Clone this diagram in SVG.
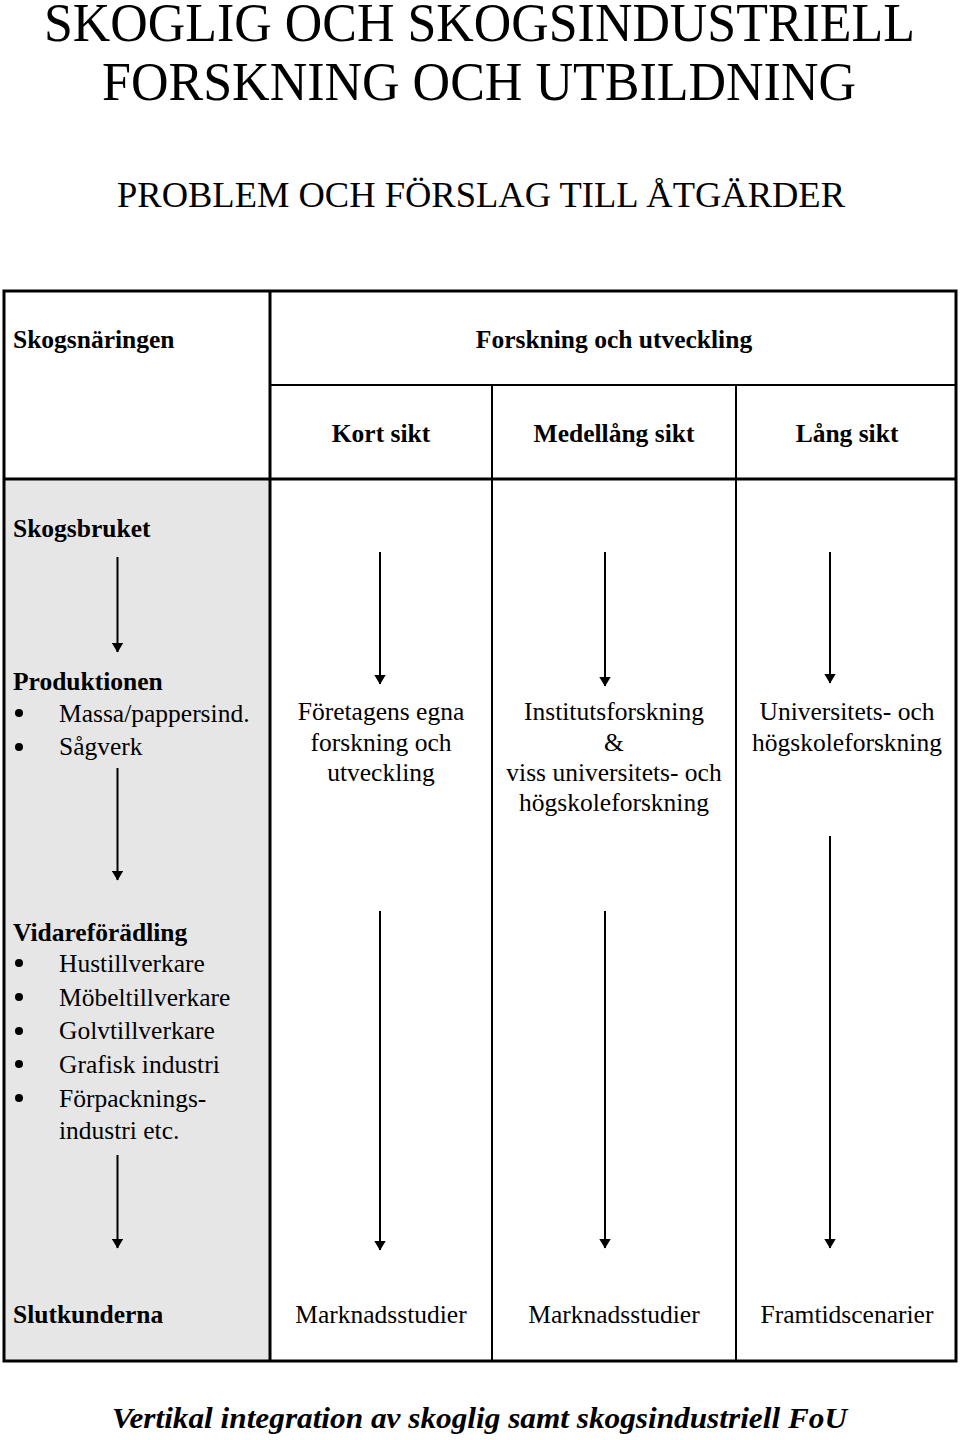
<svg xmlns="http://www.w3.org/2000/svg" width="960" height="1440" viewBox="0 0 960 1440">
<style>
text{font-family:"Liberation Serif","Times New Roman",serif;fill:#000;}
.t1{font-size:54px;}
.t3{font-size:36px;}
.b{font-size:25.5px;font-weight:bold;}
.r{font-size:25.5px;}
.c{text-anchor:middle;}
.cap{font-size:29px;font-weight:bold;font-style:italic;}
.thick{stroke:#000;stroke-width:3;fill:none;}
.thin{stroke:#000;stroke-width:2;fill:none;}
.arr{stroke:#000;stroke-width:2;fill:none;marker-end:url(#ah);}
</style>
<defs>
<marker id="ah" viewBox="0 0 10 12" refX="9.5" refY="6" markerWidth="5" markerHeight="6" markerUnits="strokeWidth" orient="auto">
<path d="M0,0 L10,6 L0,12 z" fill="#000"/>
</marker>
</defs>
<rect width="960" height="1440" fill="#fff"/>
<g id="title">
<text class="t1" x="44" y="41" textLength="871" lengthAdjust="spacingAndGlyphs">SKOGLIG OCH SKOGSINDUSTRIELL</text>
<text class="t1" x="102" y="100" textLength="754" lengthAdjust="spacingAndGlyphs">FORSKNING OCH UTBILDNING</text>
<text class="t3" x="117" y="207" textLength="728" lengthAdjust="spacingAndGlyphs">PROBLEM OCH FÖRSLAG TILL ÅTGÄRDER</text>
</g>
<g id="table">
<rect x="4" y="479" width="266" height="882" fill="#e6e6e6"/>
<rect class="thick" x="4" y="291" width="952" height="1070"/>
<line class="thick" x1="4" y1="479" x2="956" y2="479"/>
<line class="thick" x1="270" y1="291" x2="270" y2="1361"/>
<line class="thin" x1="270" y1="385" x2="956" y2="385"/>
<line class="thin" x1="492" y1="385" x2="492" y2="1361"/>
<line class="thin" x1="736" y1="385" x2="736" y2="1361"/>
</g>
<g id="header">
<text class="b" x="13" y="348">Skogsnäringen</text>
<text class="b c" x="614" y="348">Forskning och utveckling</text>
<text class="b c" x="381" y="442">Kort sikt</text>
<text class="b c" x="614" y="442">Medellång sikt</text>
<text class="b c" x="847" y="442">Lång sikt</text>
</g>
<g id="skogsbruket">
<text class="b" x="13" y="537">Skogsbruket</text>
</g>
<g id="produktionen">
<text class="b" x="13" y="690">Produktionen</text>
<circle cx="19" cy="713" r="4"/>
<text class="r" x="59" y="722">Massa/pappersind.</text>
<circle cx="19" cy="747" r="4"/>
<text class="r" x="59" y="755">Sågverk</text>
</g>
<g id="vidareforadling">
<text class="b" x="13" y="941">Vidareförädling</text>
<circle cx="19" cy="963" r="4"/>
<text class="r" x="59" y="972">Hustillverkare</text>
<circle cx="19" cy="997" r="4"/>
<text class="r" x="59" y="1006">Möbeltillverkare</text>
<circle cx="19" cy="1031" r="4"/>
<text class="r" x="59" y="1039">Golvtillverkare</text>
<circle cx="19" cy="1064" r="4"/>
<text class="r" x="59" y="1073">Grafisk industri</text>
<circle cx="19" cy="1098" r="4"/>
<text class="r" x="59" y="1107">Förpacknings-</text>
<text class="r" x="59" y="1139">industri etc.</text>
</g>
<g id="slutkunderna">
<text class="b" x="13" y="1323">Slutkunderna</text>
</g>
<g id="foretagens">
<text class="r c" x="381" y="720">Företagens egna</text>
<text class="r c" x="381" y="751">forskning och</text>
<text class="r c" x="381" y="781">utveckling</text>
</g>
<g id="institut">
<text class="r c" x="614" y="720">Institutsforskning</text>
<text class="r c" x="614" y="751">&amp;</text>
<text class="r c" x="614" y="781">viss universitets- och</text>
<text class="r c" x="614" y="811">högskoleforskning</text>
</g>
<g id="universitet">
<text class="r c" x="847" y="720">Universitets- och</text>
<text class="r c" x="847" y="751">högskoleforskning</text>
</g>
<g id="marknad1">
<text class="r c" x="381" y="1323">Marknadsstudier</text>
</g>
<g id="marknad2">
<text class="r c" x="614" y="1323">Marknadsstudier</text>
</g>
<g id="framtid">
<text class="r c" x="847" y="1323">Framtidscenarier</text>
</g>
<g id="connectors">
<line class="arr" x1="117.5" y1="557" x2="117.5" y2="652"/>
<line class="arr" x1="117.5" y1="768" x2="117.5" y2="880"/>
<line class="arr" x1="117.5" y1="1155" x2="117.5" y2="1248"/>
<line class="arr" x1="380" y1="552" x2="380" y2="684"/>
<line class="arr" x1="605" y1="552" x2="605" y2="686"/>
<line class="arr" x1="830" y1="552" x2="830" y2="683"/>
<line class="arr" x1="380" y1="911" x2="380" y2="1250"/>
<line class="arr" x1="605" y1="911" x2="605" y2="1248"/>
<line class="arr" x1="830" y1="836" x2="830" y2="1248"/>
</g>
<g id="caption">
<text class="cap" x="112" y="1428" textLength="735" lengthAdjust="spacingAndGlyphs">Vertikal integration av skoglig samt skogsindustriell FoU</text>
</g>
</svg>
